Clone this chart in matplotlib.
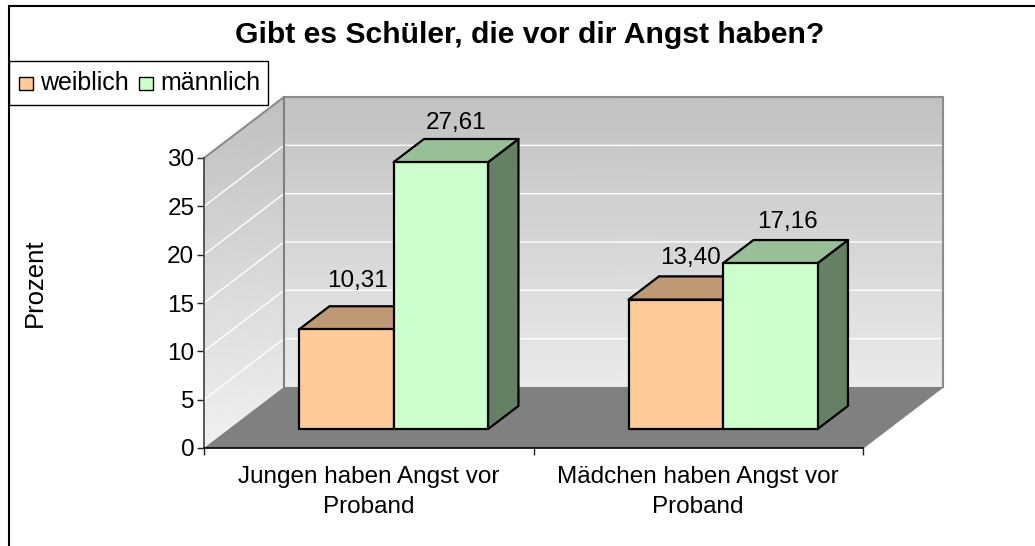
# -*- coding: utf-8 -*-
import numpy as np
import matplotlib
matplotlib.use('Agg')
import matplotlib.pyplot as plt
from matplotlib.patches import Polygon, Rectangle

plt.rcParams['font.family'] = ['Liberation Sans', 'DejaVu Sans']

###
# The values.
###
title = 'Gibt es Schüler, die vor dir Angst haben?'
categories = ['Jungen haben Angst vor\nProband', 'Mädchen haben Angst vor\nProband']
series_names = ['weiblich', 'männlich']
weiblich = [10.31, 13.40]
maennlich = [27.61, 17.16]
value_labels = [['10,31', '13,40'], ['27,61', '17,16']]
y_ticks = [0, 5, 10, 15, 20, 25, 30]
y_label = 'Prozent'

face_colours = ['#FFCC99', '#CCFFCC']
top_colours = ['#BF9973', '#99BF99']
side_colours = ['#806650', '#668066']

W, H = 1035, 546
fig = plt.figure(figsize=(W / 100, H / 100), dpi=100)

# The axes are the front plane of the 3D box.
left, right, bottom, top = 204, 863, 448, 158
ax = fig.add_axes([left / W, 1 - bottom / H, (right - left) / W, (bottom - top) / H])
ax.set_xlim(0, len(categories))
ax.set_ylim(0, 30)
ax.patch.set_visible(False)

# Depth of the box, in data units per unit of z.
DX = 80 / (right - left) * len(categories)
DY = 61 / (bottom - top) * 30


def project(x, y, z):
    return x + z * DX, y + z * DY


def box(x0, x1, height, z0, z1, face, top_c, side):
    # Draws one 3D bar: side, top then front.
    side_pts = [project(x1, 0, z0), project(x1, 0, z1), project(x1, height, z1), project(x1, height, z0)]
    top_pts = [project(x0, height, z0), project(x1, height, z0), project(x1, height, z1), project(x0, height, z1)]
    front_pts = [project(x0, 0, z0), project(x1, 0, z0), project(x1, height, z0), project(x0, height, z0)]
    for pts, c in [(side_pts, side), (top_pts, top_c), (front_pts, face)]:
        ax.add_patch(Polygon(pts, closed=True, facecolor=c, edgecolor='black', lw=1.6,
                             joinstyle='round', clip_on=False, zorder=5))


###
# Walls: a grey gradient going up the screen, floor is flat grey.
###
ny = 60
ys = np.linspace(0, 30, ny)
xmax = len(categories)
ymax_screen = 30 + DY


def shade(y):
    return 0.945 - (0.945 - 0.75) * y / ymax_screen


# back wall
bx, by = project(np.array([0, xmax]), ys[:, None], 1)
by = by * np.ones((ny, 2))
ax.pcolormesh(np.broadcast_to(bx, (ny, 2)), by, shade(by - DY * 0.2),
              cmap='gray', vmin=0, vmax=1, shading='gouraud', clip_on=False, zorder=1)
# side wall
zs = np.array([0, 1])
sx = np.broadcast_to(zs * DX, (ny, 2))
sy = ys[:, None] + zs * DY
ax.pcolormesh(sx, sy, shade(sy),
              cmap='gray', vmin=0, vmax=1, shading='gouraud', clip_on=False, zorder=1)
# floor
ax.add_patch(Polygon([project(0, 0, 0), project(xmax, 0, 0), project(xmax, 0, 1), project(0, 0, 1)],
                     closed=True, facecolor='#808080', edgecolor='none', clip_on=False, zorder=2))

# white grid lines on both walls
for t in y_ticks[1:-1]:
    ax.plot(*zip(project(0, t, 0), project(0, t, 1), project(xmax, t, 1)), color='white', lw=1,
            clip_on=False, zorder=3)

# grey outline of the walls
ax.plot(*zip(project(0, 30, 0), project(0, 30, 1), project(xmax, 30, 1), project(xmax, 0, 1)),
        color='#8c8c8c', lw=1.5, clip_on=False, zorder=3)
ax.plot(*zip(project(0, 30, 1), project(0, 0, 1)), color='#808080', lw=1.5, clip_on=False, zorder=3)
ax.plot(*zip(project(xmax, 0, 0), project(xmax, 0, 1)), color='#808080', lw=1, clip_on=False, zorder=3)

###
# Bars
###
bar_w = 0.2868
z0, z1 = 0.31, 0.69
for s, vals in enumerate([weiblich, maennlich]):
    for i, v in enumerate(vals):
        xc = i + 0.5
        x0 = xc - bar_w + s * bar_w
        box(x0, x0 + bar_w, v, z0, z1, face_colours[s], top_colours[s], side_colours[s])

# value labels float above the middle of each bar top, nudged by hand (pixels)
label_nudge = [[(-4, 37), (0, 30)], [(0, 28), (2, 30)]]
for s, vals in enumerate([weiblich, maennlich]):
    for i, v in enumerate(vals):
        xc = i + 0.5 - bar_w + s * bar_w + bar_w / 2
        lx, ly = project(xc, v, 0.5)
        nx, ny_px = label_nudge[s][i]
        ax.annotate(value_labels[s][i], (lx, ly), xytext=(nx * 0.72, ny_px * 0.72), textcoords='offset points',
                    ha='center', va='center', fontsize=17.5, color='black', zorder=6,
                    annotation_clip=False)

###
# Axes, ticks, labels
###
for name in ['top', 'right']:
    ax.spines[name].set_visible(False)
ax.spines['left'].set_color('#404040')
ax.spines['left'].set_linewidth(1.2)
ax.spines['left'].set_zorder(4)
ax.spines['bottom'].set_color('black')
ax.spines['bottom'].set_linewidth(1.2)
ax.spines['bottom'].set_zorder(4)
ax.set_yticks(y_ticks)
ax.set_xticks(range(len(categories) + 1))
ax.set_xticklabels([])
ax.tick_params(axis='both', length=5, width=1, color='#202020', labelsize=17.5, pad=2)
for i, c in enumerate(categories):
    ax.annotate(c, (i + 0.5, 0), xytext=(0, -13), textcoords='offset points', ha='center', va='top',
                fontsize=17.5, linespacing=1.45, annotation_clip=False)

fig.text(35 / W, 1 - 283 / H, y_label, rotation=90, ha='center', va='center', fontsize=18.5)
fig.text(530 / W, 1 - 35 / H, title, ha='center', va='center', fontsize=21.7, fontweight='bold')

###
# Legend box and chart border, drawn in pixels of the figure
###
fig.add_artist(Rectangle((9 / W, 1 - 105 / H), 259 / W, 44 / H, transform=fig.transFigure,
                         facecolor='white', edgecolor='black', lw=1))
for name, c, bx0, tx in zip(series_names, face_colours, [19, 139], [40, 160]):
    fig.add_artist(Rectangle((bx0 / W, 1 - 90 / H), 13.5 / W, 13 / H, transform=fig.transFigure,
                             facecolor=c, edgecolor='black', lw=1))
    fig.text(tx / W, 1 - 83 / H, name, ha='left', va='center', fontsize=18)

fig.add_artist(Rectangle((9 / W, -0.01), 1100 / W, 1 - 6 / H + 0.01, transform=fig.transFigure,
                         facecolor='none', edgecolor='black', lw=1.5))

plt.savefig('out.png', dpi=100)
